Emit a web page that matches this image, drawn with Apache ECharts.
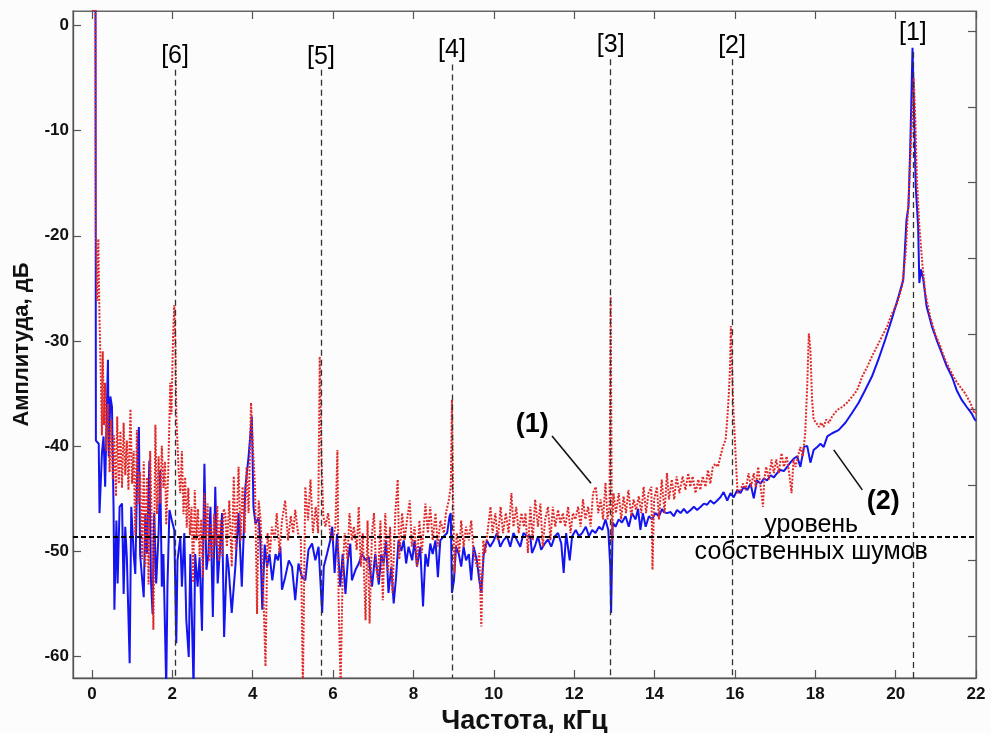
<!DOCTYPE html>
<html>
<head>
<meta charset="utf-8">
<script src="https://cdn.jsdelivr.net/npm/echarts@6/dist/echarts.min.js"></script>
<style>
html,body{margin:0;padding:0;background:#fcfcfc;}
#chart{width:991px;height:733px;}
</style>
</head>
<body>
<div id="chart"></div>
<script>
// ---- axis ticks ----
const xTickValues = [0, 2, 4, 6, 8, 10, 12, 14, 16, 18, 20, 22];
const yTickValues = [0, -10, -20, -30, -40, -50, -60];
const rightTickValues = [-0.57, -7.76, -14.95, -22.14, -29.33, -36.52, -43.71, -50.9, -58.1];

// ---- series (2): blue solid ----
const blueFreq = [0.09,0.10,0.17,0.19,0.25,0.29,0.33,0.37,0.40,0.42,0.46,0.50,0.54,0.56,0.61,0.64,0.69,0.75,0.79,0.83,0.87,0.94,0.98,1.04,1.08,1.14,1.17,1.20,1.24,1.29,1.33,1.37,1.43,1.47,1.51,1.55,1.60,1.66,1.70,1.74,1.78,1.85,1.88,1.93,1.99,2.05,2.10,2.13,2.20,2.24,2.30,2.35,2.41,2.45,2.53,2.57,2.63,2.68,2.74,2.80,2.85,2.90,2.95,3.01,3.07,3.13,3.18,3.24,3.29,3.36,
3.40,3.48,3.57,3.65,3.73,3.82,3.90,3.98,4.02,4.07,4.15,4.19,4.24,4.30,4.36,4.42,4.49,4.57,4.63,4.69,4.73,4.81,4.90,4.98,5.06,5.14,5.23,5.31,5.39,5.48,5.56,5.64,5.73,5.77,5.85,5.93,5.98,6.04,6.10,6.18,6.24,6.31,6.37,6.43,6.47,6.56,6.64,6.72,6.81,6.89,6.97,7.05,
7.14,7.20,7.26,7.32,7.38,7.45,7.51,7.57,7.63,7.70,7.76,7.82,7.88,7.97,8.03,8.09,8.17,8.24,8.30,8.36,8.42,8.48,8.55,8.61,8.67,8.76,8.84,8.90,8.93,8.96,9.01,9.06,9.13,9.19,9.25,9.31,9.38,9.44,9.50,9.58,9.64,9.69,9.75,9.83,9.91,10.00,10.08,10.16,10.24,10.33,10.41,10.49,10.58,10.66,10.74,10.83,
10.91,10.95,11.02,11.10,11.18,11.27,11.35,11.43,11.52,11.60,11.68,11.74,11.80,11.89,11.95,12.04,12.12,12.20,12.29,12.37,12.45,12.53,12.62,12.70,12.78,12.85,12.90,12.92,12.96,13.03,13.11,13.19,13.28,13.36,13.44,13.53,13.59,13.65,13.71,13.78,13.86,13.94,14.02,14.11,14.19,
14.23,14.31,14.40,14.48,14.56,14.65,14.73,14.81,14.90,14.98,15.06,15.15,15.23,15.31,15.39,15.48,15.56,15.64,15.72,15.81,15.89,15.97,16.06,16.14,16.22,16.31,16.39,16.47,16.55,16.64,16.72,16.80,16.89,16.97,17.05,17.13,17.22,17.30,17.38,17.47,17.55,17.63,17.72,17.80,17.88,17.96,18.05,18.13,18.21,
18.30,18.42,18.58,18.75,18.91,19.08,19.24,19.41,19.57,19.74,19.90,20.07,20.19,20.27,20.32,20.36,20.39,20.42,20.46,20.50,20.56,20.59,20.63,20.69,20.77,20.90,21.02,21.15,21.27,21.40,21.52,21.64,21.77,21.89,21.97,22.00];
const blueAmp = [1.5,-39.5,-39.8,-46.4,-40.7,-39.1,-43.9,-36.9,-31.8,-41.0,-35.3,-36.3,-46.1,-55.6,-47.1,-53.1,-45.8,-45.5,-54.1,-47.7,-50.6,-60.7,-45.8,-50.3,-52.2,-40.1,-38.2,-50.3,-52.2,-54.4,-46.4,-50.3,-41.4,-52.8,-56.0,-46.4,-53.1,-48.3,-42.3,-53.4,-50.3,-63.0,-53.4,-46.1,-47.1,-48.0,-58.8,-50.9,-48.7,-53.4,-48.3,-56.6,-60.1,-50.3,-63.0,-50.3,-53.4,-50.6,-57.6,-41.7,-51.8,-50.3,-45.8,-56.3,-43.9,-53.1,-50.3,-46.4,-58.2,-50.3,
-51.5,-55.9,-51.5,-46.4,-53.4,-43.9,-41.0,-37.2,-45.8,-47.4,-46.8,-49.0,-55.6,-49.4,-51.5,-50.3,-52.8,-50.3,-50.9,-49.6,-53.7,-52.5,-50.9,-51.5,-54.7,-51.2,-52.5,-52.8,-49.9,-49.3,-50.9,-49.6,-55.9,-51.5,-50.3,-49.0,-47.7,-52.1,-48.4,-53.4,-50.3,-54.1,-50.9,-49.3,-52.8,-51.8,-51.2,-50.3,-50.9,-50.6,-53.4,-50.3,
-53.2,-50.3,-51.2,-49.0,-54.0,-51.5,-55.0,-52.5,-49.0,-50.0,-49.0,-51.2,-49.6,-50.9,-49.0,-51.5,-49.6,-55.3,-50.3,-51.5,-49.3,-50.3,-49.0,-52.5,-49.0,-48.6,-48.3,-46.7,-46.4,-54.0,-52.8,-49.6,-50.3,-51.5,-49.6,-50.9,-50.3,-52.8,-49.6,-50.9,-52.8,-54.0,-50.3,-49.0,-49.6,-49.0,-48.3,-49.6,-49.0,-48.6,-49.6,-48.3,-49.0,-49.6,-48.3,-48.6,
-48.6,-50.2,-49.6,-48.6,-49.9,-49.3,-48.9,-49.6,-48.6,-48.3,-49.3,-52.1,-48.3,-50.9,-48.6,-48.0,-48.6,-48.3,-47.7,-48.6,-48.0,-48.3,-47.7,-48.0,-47.0,-48.0,-51.5,-55.9,-47.3,-47.7,-47.0,-47.3,-46.7,-47.7,-46.4,-47.0,-46.0,-48.0,-46.4,-47.7,-46.7,-47.0,-46.4,-46.7,-46.0,
-46.3,-46.4,-46.3,-46.7,-46.1,-46.4,-46.0,-46.4,-46.1,-45.8,-46.1,-45.8,-45.5,-45.6,-45.2,-45.5,-45.2,-44.9,-44.4,-45.2,-44.5,-44.9,-44.2,-44.5,-43.9,-44.2,-43.6,-45.0,-43.3,-43.6,-43.1,-43.3,-42.8,-43.0,-42.6,-42.3,-42.4,-42.0,-41.6,-41.2,-41.0,-42.0,-40.1,-40.0,-41.6,-40.4,-40.1,-39.8,-40.1,
-39.1,-38.8,-38.5,-37.8,-36.9,-35.9,-34.7,-33.4,-31.8,-29.9,-28.0,-25.8,-24.2,-18.5,-17.2,-12.1,-7.4,-2.1,-8.3,-15.3,-19.1,-24.5,-23.2,-24.2,-26.7,-28.6,-29.9,-31.2,-32.4,-33.4,-34.7,-35.6,-36.3,-36.9,-37.5,-37.6];

// ---- series (1): red dotted ----
const redFreq = [0.00,0.09,0.10,0.13,0.16,0.19,0.22,0.25,0.27,0.30,0.33,0.36,0.40,0.44,0.48,0.52,0.55,0.60,0.63,0.67,0.71,0.75,0.79,0.83,0.87,0.91,0.96,1.00,1.04,1.08,1.12,1.16,1.20,1.25,1.29,1.33,1.37,1.41,1.45,1.50,1.53,1.58,1.62,1.66,1.70,1.74,1.78,1.82,1.85,1.90,1.95,1.98,2.02,2.05,2.08,2.10,2.13,2.16,2.20,2.24,2.28,2.32,2.36,2.40,2.44,2.48,2.52,2.56,2.60,2.64,2.68,2.72,2.76,2.80,2.84,2.88,2.92,2.96,3.00,3.04,3.08,3.12,3.16,3.20,3.24,3.28,
3.32,3.36,3.42,3.48,3.53,3.58,3.65,3.70,3.75,3.80,3.85,3.90,3.96,4.01,4.06,4.11,4.15,4.20,4.26,4.32,4.37,4.43,4.48,4.55,4.60,4.67,4.73,4.81,4.88,4.95,5.01,5.06,5.13,5.20,5.25,5.31,5.38,5.44,5.50,5.57,5.63,5.67,5.71,5.76,5.81,5.88,5.93,5.99,6.06,6.11,6.14,6.19,6.24,6.29,6.36,6.41,6.47,6.52,6.59,6.64,6.69,6.74,6.81,6.86,6.91,6.97,7.02,7.07,
7.12,7.18,7.24,7.30,7.37,7.42,7.48,7.55,7.61,7.65,7.72,7.78,7.84,7.91,7.96,8.03,8.09,8.15,8.21,8.30,8.36,8.42,8.48,8.55,8.61,8.67,8.76,8.81,8.88,8.93,8.96,8.99,9.02,9.08,9.14,9.19,9.25,9.31,9.38,9.44,9.50,9.58,9.64,9.69,9.74,9.79,9.86,9.92,9.97,10.04,10.10,10.17,10.23,10.30,10.37,10.44,10.49,10.56,10.62,10.69,10.75,10.79,
10.85,10.91,10.97,11.03,11.10,11.16,11.22,11.28,11.35,11.41,11.47,11.53,11.60,11.66,11.72,11.78,11.85,11.91,11.97,12.03,12.10,12.16,12.22,12.28,12.35,12.41,12.47,12.54,12.60,12.66,12.72,12.78,12.83,12.88,12.91,12.94,12.98,13.04,13.11,13.17,13.23,13.29,13.35,13.42,13.48,13.54,13.61,13.67,13.73,13.79,13.85,13.92,13.95,13.99,14.06,14.11,14.18,14.25,14.31,14.36,14.43,14.49,14.55,
14.62,14.70,14.77,14.84,14.89,14.95,15.02,15.09,15.14,15.20,15.27,15.33,15.39,15.45,15.52,15.58,15.64,15.70,15.77,15.81,15.85,15.88,15.90,15.93,15.96,16.00,16.04,16.07,16.14,16.20,16.27,16.34,16.40,16.47,16.52,16.58,16.64,16.70,16.73,16.78,16.85,16.91,16.97,17.03,17.09,17.16,17.22,17.29,17.35,17.41,17.46,17.51,17.57,17.63,17.69,17.75,17.80,17.84,17.88,17.92,17.96,18.02,18.09,18.15,18.21,18.27,
18.34,18.42,18.54,18.67,18.79,18.92,19.04,19.17,19.29,19.41,19.54,19.66,19.79,19.91,20.04,20.16,20.25,20.33,20.39,20.45,20.49,20.53,20.59,20.67,20.74,20.86,20.98,21.11,21.23,21.36,21.48,21.61,21.73,21.86,21.96,22.00];
const redAmp = [1.5,1.5,-19.8,-26.2,-20.3,-28.0,-33.0,-39.0,-31.0,-38.0,-34.0,-40.5,-36.0,-42.5,-37.5,-43.2,-39.0,-44.8,-37.2,-43.6,-38.6,-44.0,-37.8,-42.8,-39.5,-44.2,-36.5,-43.6,-40.5,-48.5,-38.5,-45.5,-42.5,-50.8,-41.5,-51.5,-43.0,-53.2,-40.5,-49.0,-57.5,-38.0,-46.5,-41.0,-45.5,-40.0,-44.0,-41.5,-47.5,-42.5,-34.0,-37.0,-29.5,-26.6,-30.5,-37.0,-39.8,-42.5,-44.5,-40.5,-46.5,-43.0,-47.8,-44.0,-48.5,-45.8,-53.0,-44.2,-49.0,-46.0,-50.5,-47.0,-52.5,-44.5,-49.0,-45.5,-51.0,-47.5,-50.7,-46.5,-49.5,-45.7,-51.0,-47.0,-50.5,-46.0,
-46.4,-49.6,-45.2,-51.5,-42.9,-49.9,-42.0,-49.0,-43.9,-48.3,-42.0,-46.4,-35.9,-40.4,-43.9,-56.0,-45.2,-47.1,-53.1,-61.0,-48.3,-50.2,-47.7,-49.0,-46.4,-50.2,-47.1,-45.2,-49.0,-46.7,-48.3,-46.1,-48.3,-49.0,-63.0,-43.9,-47.1,-43.2,-48.3,-45.8,-48.3,-31.5,-40.7,-46.7,-47.7,-46.4,-48.3,-49.0,-47.7,-40.4,-54.8,-63.0,-52.1,-48.3,-50.8,-46.4,-49.0,-47.7,-49.9,-45.8,-51.5,-48.3,-56.6,-47.1,-56.9,-48.3,-46.4,-51.5,
-52.8,-47.1,-54.7,-46.4,-52.1,-47.7,-54.0,-46.4,-43.2,-50.8,-46.4,-49.0,-47.1,-45.2,-49.6,-47.7,-51.5,-47.1,-50.2,-45.5,-48.3,-45.8,-49.0,-46.4,-49.6,-47.1,-48.3,-46.4,-45.2,-43.9,-35.6,-45.2,-52.1,-48.3,-50.2,-47.1,-49.6,-47.7,-49.0,-47.1,-50.2,-51.5,-50.2,-57.2,-49.0,-50.2,-47.7,-45.8,-48.3,-46.4,-49.0,-45.8,-48.3,-46.4,-48.3,-44.5,-47.7,-45.8,-48.3,-46.4,-47.7,-46.4,
-50.2,-45.8,-49.0,-45.1,-47.7,-45.5,-49.6,-47.0,-45.8,-49.0,-45.8,-47.7,-46.1,-47.4,-46.4,-47.7,-45.8,-48.3,-46.4,-47.0,-45.8,-47.7,-45.1,-47.0,-45.8,-47.7,-44.5,-43.9,-46.4,-45.1,-47.0,-43.5,-47.0,-45.8,-25.8,-49.0,-44.5,-46.4,-44.5,-47.0,-44.8,-46.4,-44.2,-46.7,-45.1,-46.1,-44.8,-46.4,-43.9,-46.4,-44.5,-43.9,-51.8,-45.1,-43.9,-47.0,-43.2,-46.4,-42.6,-45.1,-43.2,-45.1,-42.9,
-44.5,-42.9,-44.2,-42.6,-43.9,-42.9,-44.5,-43.2,-44.2,-42.9,-43.9,-42.3,-43.6,-42.0,-41.7,-42.0,-41.0,-40.1,-39.4,-37.5,-35.0,-32.5,-28.6,-32.5,-36.3,-39.4,-42.6,-44.5,-44.2,-43.6,-44.2,-42.6,-43.9,-42.6,-43.9,-42.0,-43.9,-45.8,-43.2,-42.0,-43.2,-41.3,-42.6,-41.3,-42.6,-40.7,-42.0,-41.0,-42.6,-44.5,-41.3,-42.0,-41.0,-40.1,-41.0,-38.8,-34.3,-29.3,-30.9,-35.6,-37.5,-37.8,-38.2,-37.8,-38.2,-37.5,
-37.8,-37.2,-36.6,-36.3,-35.9,-35.3,-34.7,-33.4,-32.5,-31.5,-30.5,-29.6,-28.6,-27.4,-26.4,-24.8,-21.7,-15.9,-10.5,-5.0,-8.9,-14.7,-19.1,-22.9,-25.5,-27.7,-29.3,-30.5,-31.8,-32.8,-33.7,-34.4,-35.0,-35.9,-36.9,-36.8];

// ---- annotations ----
const markerNames = ['[6]', '[5]', '[4]', '[3]', '[2]', '[1]'];
const markerFreq = [2.07, 5.70, 8.96, 12.91, 15.93, 20.43];
const markerLineTop = [-4.2, -4.2, -3.7, -3.2, -3.2, -2.5];
const markerLabelY = [-2.9, -2.95, -2.3, -1.8, -1.95, -0.7];
const noiseLevel = -48.7;
const noiseText = ['уровень', 'собственных шумов'];
const noiseTextPos = [[17.9, -47.5], [17.9, -50.15]];
const curveNames = ['(1)', '(2)'];
const curveLabelPos = [[10.96, -38.0], [19.69, -45.3]];
const leaderLines = [[[11.45, -39.05], [12.42, -43.55]], [[18.46, -40.38], [19.17, -44.19]]];

const X_MIN = -0.47, X_MAX = 22, Y_MIN = -62.1, Y_MAX = 1.4;
const FONT = '"Liberation Sans", Arial, Helvetica, sans-serif';

const zip = (a, b) => a.map((v, i) => [v, b[i]]);

const chart = echarts.init(document.getElementById('chart'), null, {renderer: 'canvas'});

const vLines = markerFreq.map((f, i) => [{coord: [f, markerLineTop[i]]}, {coord: [f, Y_MIN]}]);

const textData = [];
markerNames.forEach((n, i) => textData.push({value: [markerFreq[i], markerLabelY[i]], label: {formatter: n, fontSize: 25, fontWeight: 'normal'}}));
noiseText.forEach((t, i) => textData.push({value: noiseTextPos[i], label: {formatter: t, fontSize: 25, fontWeight: 'normal'}}));
curveNames.forEach((t, i) => textData.push({value: curveLabelPos[i], label: {formatter: t, fontSize: 27, fontWeight: 'bold'}}));

const option = {
  backgroundColor: '#fcfcfc',
  animation: false,
  grid: {left: 73, right: 15, top: 11, bottom: 55, show: true, borderColor: '#666', borderWidth: 1.2,
         backgroundColor: 'transparent', containLabel: false, outerBoundsMode: 'none'},
  xAxis: [{
    type: 'value', min: X_MIN, max: X_MAX, position: 'bottom',
    name: 'Частота, кГц', nameLocation: 'middle', nameGap: 25,
    nameTextStyle: {fontFamily: FONT, fontSize: 27, fontWeight: 'bold', color: '#111'},
    axisLine: {show: true, onZero: false, lineStyle: {color: '#555', width: 1.3}},
    axisTick: {show: true, inside: true, length: 8, customValues: xTickValues, lineStyle: {color: '#555', width: 1.2}},
    axisLabel: {show: true, customValues: xTickValues, margin: 8, fontFamily: FONT, fontSize: 17, fontWeight: 'bold', color: '#111'},
    splitLine: {show: false}
  }, {
    type: 'value', min: X_MIN, max: X_MAX, position: 'top',
    axisLine: {show: true, onZero: false, lineStyle: {color: '#666', width: 1.2}},
    axisTick: {show: true, inside: true, length: 8, customValues: xTickValues, lineStyle: {color: '#555', width: 1.2}},
    axisLabel: {show: false},
    splitLine: {show: false}
  }],
  yAxis: [{
    type: 'value', min: Y_MIN, max: Y_MAX, position: 'left',
    name: 'Амплитуда, дБ', nameLocation: 'middle', nameGap: 40,
    nameTextStyle: {fontFamily: FONT, fontSize: 22, fontWeight: 'bold', color: '#111'},
    axisLine: {show: true, onZero: false, lineStyle: {color: '#555', width: 1.3}},
    axisTick: {show: true, inside: true, length: 8, customValues: yTickValues, lineStyle: {color: '#555', width: 1.2}},
    axisLabel: {show: true, customValues: yTickValues, margin: 4, fontFamily: FONT, fontSize: 17, fontWeight: 'bold', color: '#111'},
    splitLine: {show: false}
  }, {
    type: 'value', min: Y_MIN, max: Y_MAX, position: 'right',
    axisLine: {show: true, onZero: false, lineStyle: {color: '#666', width: 1.2}},
    axisTick: {show: true, inside: true, length: 8, customValues: rightTickValues, lineStyle: {color: '#555', width: 1.2}},
    axisLabel: {show: false},
    splitLine: {show: false}
  }],
  series: [{
    name: '(2)', type: 'line', xAxisIndex: 0, yAxisIndex: 0,
    data: zip(blueFreq, blueAmp), showSymbol: false, symbol: 'none',
    lineStyle: {color: '#1414f0', width: 2}, z: 3,
    markLine: {
      silent: true, symbol: ['none', 'none'], label: {show: false},
      lineStyle: {color: '#333', width: 1.3, type: [6, 4]},
      data: vLines
    }
  }, {
    name: '(1)', type: 'line', xAxisIndex: 0, yAxisIndex: 0,
    data: zip(redFreq, redAmp), showSymbol: false, symbol: 'none',
    lineStyle: {color: '#e02828', width: 2, type: [2, 1.5]}, z: 4,
    markLine: {
      silent: true, symbol: ['none', 'none'], label: {show: false},
      lineStyle: {color: '#000', width: 2, type: [5, 3]},
      data: [{yAxis: noiseLevel}]
    }
  }, {
    name: 'labels', type: 'scatter', xAxisIndex: 0, yAxisIndex: 0,
    symbolSize: 0, z: 6, clip: false,
    itemStyle: {opacity: 1},
    label: {show: true, position: [0, 0], align: 'center', verticalAlign: 'middle', color: '#000', opacity: 1, fontFamily: FONT},
    data: textData,
    markLine: {
      silent: true, symbol: ['none', 'none'], label: {show: false},
      lineStyle: {color: '#111', width: 1.6, type: 'solid'},
      data: leaderLines.map(l => [{coord: l[0]}, {coord: l[1]}])
    }
  }]
};
chart.setOption(option);
</script>
</body>
</html>
